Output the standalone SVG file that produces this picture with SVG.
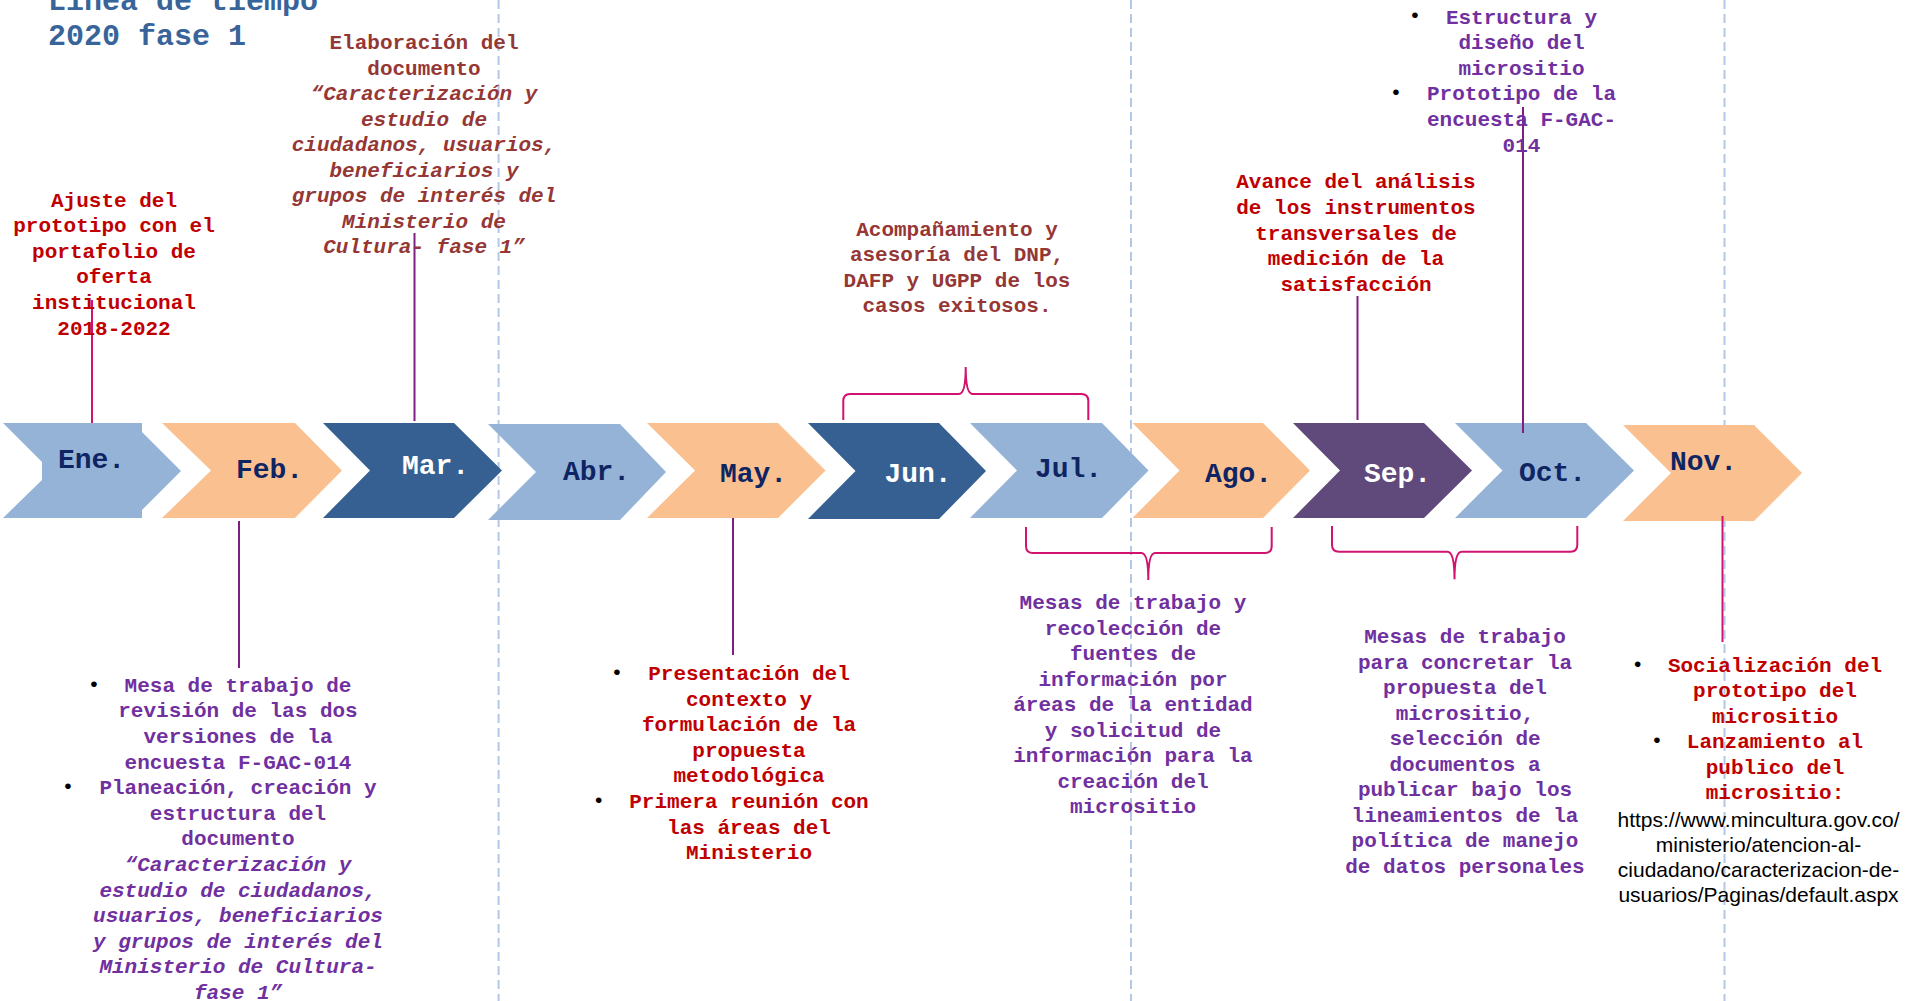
<svg xmlns="http://www.w3.org/2000/svg" width="1907" height="1001" viewBox="0 0 1907 1001">
<style>
.bg{fill:#ffffff}
.guide{stroke:#b4c7e7;stroke-width:2;stroke-dasharray:9 5;fill:none}
.lb{fill:#95b3d7}.pc{fill:#fac090}.db{fill:#376092}.pu{fill:#604a7b}
.mon{font-family:"Liberation Mono","Courier New",monospace;font-weight:bold;font-size:28px;text-anchor:middle}
.nv{fill:#0f2462}.wh{fill:#ffffff}
.t{font-family:"Liberation Mono","Courier New",monospace;font-weight:bold;font-size:21px;text-anchor:middle}
.it{font-style:italic}
.red{fill:#c00000}.brn{fill:#953735}.vio{fill:#7030a0}
.url{font-family:"Liberation Sans",Arial,sans-serif;font-size:21px;fill:#000000;text-anchor:middle}
.bul{font-family:"Liberation Sans",Arial,sans-serif;font-size:21px;fill:#000000;text-anchor:middle}
.pk{stroke:#d1136f;stroke-width:2;fill:none}
.pl{stroke:#7e1e80;stroke-width:2;fill:none}
.title{font-family:"Liberation Mono","Courier New",monospace;font-weight:bold;font-size:30px;fill:#38649a}
</style>
<rect class="bg" x="0" y="0" width="1907" height="1001"/>
<g id="guides">
<line class="guide" x1="498.6" y1="0" x2="498.6" y2="1001"/>
<line class="guide" x1="1131" y1="0" x2="1131" y2="1001"/>
<line class="guide" x1="1724.5" y1="0" x2="1724.5" y2="1001"/>
</g>
<g id="title">
<text class="title" x="48" y="10">Línea de tiempo</text>
<text class="title" x="48" y="45">2020 fase 1</text>
</g>
<g id="month-ene"><polygon class="lb" points="3,423 142,423 142,432 181,471 142,510 142,518 3,518 42,480 42,462"/><text class="mon nv" x="91.5" y="468">Ene.</text></g>
<g id="month-feb"><polygon class="pc" points="162,423 295,423 342,470.5 295,518 162,518 211,470.5"/><text class="mon nv" x="269.5" y="478">Feb.</text></g>
<g id="month-mar"><polygon class="db" points="323,423 454,423 502,470.5 454,518 323,518 370,470.5"/><text class="mon wh" x="435.5" y="474">Mar.</text></g>
<g id="month-abr"><polygon class="lb" points="488,424 620,424 666,472 620,520 488,520 536,472"/><text class="mon nv" x="596.5" y="480">Abr.</text></g>
<g id="month-may"><polygon class="pc" points="647,423 778,423 825.5,470.5 778,518 647,518 695,470.5"/><text class="mon nv" x="753.5" y="481.5">May.</text></g>
<g id="month-jun"><polygon class="db" points="808,423 939,423 986,471 939,519 808,519 855.5,471"/><text class="mon wh" x="918" y="481.5">Jun.</text></g>
<g id="month-jul"><polygon class="lb" points="970,423 1102,423 1148.5,470.5 1102,518 970,518 1017,470.5"/><text class="mon nv" x="1068.5" y="477">Jul.</text></g>
<g id="month-ago"><polygon class="pc" points="1132.5,423 1263,423 1310,470.5 1263,518 1132.5,518 1179.5,470.5"/><text class="mon nv" x="1238.5" y="481.5">Ago.</text></g>
<g id="month-sep"><polygon class="pu" points="1293,423 1424,423 1472,470.5 1424,518 1293,518 1340,470.5"/><text class="mon wh" x="1397.5" y="481.5">Sep.</text></g>
<g id="month-oct"><polygon class="lb" points="1455,423 1586,423 1634,470.5 1586,518 1455,518 1502.5,470.5"/><text class="mon nv" x="1552.5" y="480.5">Oct.</text></g>
<g id="month-nov"><polygon class="pc" points="1623,425 1754,425 1802,473 1754,521 1623,521 1671,473"/><text class="mon nv" x="1703.5" y="470">Nov.</text></g>
<g id="connectors">
<line class="pk" x1="92" y1="300" x2="92" y2="423"/>
<line class="pl" x1="414.5" y1="233" x2="414.5" y2="421"/>
<line class="pl" x1="1357.5" y1="296" x2="1357.5" y2="420"/>
<line class="pl" x1="1523" y1="107" x2="1523" y2="433"/>
<line class="pl" x1="239" y1="521" x2="239" y2="668"/>
<line class="pl" x1="733" y1="518" x2="733" y2="655"/>
<line class="pk" x1="1722.5" y1="516" x2="1722.5" y2="642"/>
<path class="pk" d="M843.3,420 L843.3,401 Q843.3,394 850,394 L959,394 Q965.7,394 965.7,367 Q965.7,394 972.5,394 L1081.5,394 Q1088.3,394 1088.3,401 L1088.3,420"/>
<path class="pk" d="M1026,527 L1026,546 Q1026,553 1033,553 L1141.5,553 Q1148.3,553 1148.3,580 Q1148.3,553 1155,553 L1264.5,553 Q1271.7,553 1271.7,546 L1271.7,527"/>
<path class="pk" d="M1332,526 L1332,545 Q1332,551.7 1339,551.7 L1447.5,551.7 Q1454.5,551.7 1454.5,579.3 Q1454.5,551.7 1461.5,551.7 L1570.5,551.7 Q1577.3,551.7 1577.3,545 L1577.3,526"/>
</g>
<g id="note-ene">
<text class="t red" x="114" y="206.5">Ajuste del</text>
<text class="t red" x="114" y="232.1">prototipo con el</text>
<text class="t red" x="114" y="257.7">portafolio de</text>
<text class="t red" x="114" y="283.3">oferta</text>
<text class="t red" x="114" y="308.9">institucional</text>
<text class="t red" x="114" y="334.5">2018-2022</text>
</g>
<g id="note-mar">
<text class="t brn" x="424" y="49.3">Elaboración del</text>
<text class="t brn" x="424" y="74.8">documento</text>
<text class="t brn it" x="424" y="100.3">“Caracterización y</text>
<text class="t brn it" x="424" y="125.8">estudio de</text>
<text class="t brn it" x="424" y="151.3">ciudadanos, usuarios,</text>
<text class="t brn it" x="424" y="176.8">beneficiarios y</text>
<text class="t brn it" x="424" y="202.3">grupos de interés del</text>
<text class="t brn it" x="424" y="227.8">Ministerio de</text>
<text class="t brn it" x="424" y="253.3">Cultura- fase 1”</text>
</g>
<g id="note-jun-jul">
<text class="t brn" x="957" y="236">Acompañamiento y</text>
<text class="t brn" x="957" y="261.3">asesoría del DNP,</text>
<text class="t brn" x="957" y="286.6">DAFP y UGPP de los</text>
<text class="t brn" x="957" y="311.9">casos exitosos.</text>
</g>
<g id="note-sep">
<text class="t red" x="1356" y="188.3">Avance del análisis</text>
<text class="t red" x="1356" y="213.9">de los instrumentos</text>
<text class="t red" x="1356" y="239.5">transversales de</text>
<text class="t red" x="1356" y="265.1">medición de la</text>
<text class="t red" x="1356" y="290.7">satisfacción</text>
</g>
<g id="note-oct">
<text class="bul" x="1415" y="22">•</text>
<text class="t vio" x="1521.5" y="23.5">Estructura y</text>
<text class="t vio" x="1521.5" y="49.1">diseño  del</text>
<text class="t vio" x="1521.5" y="74.7">micrositio</text>
<text class="bul" x="1396" y="99">•</text>
<text class="t vio" x="1521.5" y="100.3">Prototipo de la</text>
<text class="t vio" x="1521.5" y="125.9">encuesta F-GAC-</text>
<text class="t vio" x="1521.5" y="151.5">014</text>
</g>
<g id="note-feb">
<text class="bul" x="94" y="691">•</text>
<text class="t vio" x="238" y="691.7">Mesa de trabajo de</text>
<text class="t vio" x="238" y="717.3">revisión de las dos</text>
<text class="t vio" x="238" y="742.9">versiones de la</text>
<text class="t vio" x="238" y="768.5">encuesta F-GAC-014</text>
<text class="bul" x="68" y="792.7">•</text>
<text class="t vio" x="238" y="794.1">Planeación, creación y</text>
<text class="t vio" x="238" y="819.7">estructura del</text>
<text class="t vio" x="238" y="845.3">documento</text>
<text class="t vio it" x="238" y="870.9">“Caracterización y</text>
<text class="t vio it" x="238" y="896.5">estudio de ciudadanos,</text>
<text class="t vio it" x="238" y="922.1">usuarios, beneficiarios</text>
<text class="t vio it" x="238" y="947.7">y grupos de interés del</text>
<text class="t vio it" x="238" y="973.3">Ministerio de Cultura-</text>
<text class="t vio it" x="238" y="998.9">fase 1”</text>
</g>
<g id="note-may">
<text class="bul" x="617" y="679">•</text>
<text class="t red" x="749" y="680">Presentación del</text>
<text class="t red" x="749" y="705.6">contexto y</text>
<text class="t red" x="749" y="731.2">formulación de la</text>
<text class="t red" x="749" y="756.8">propuesta</text>
<text class="t red" x="749" y="782.4">metodológica</text>
<text class="bul" x="598.6" y="806.7">•</text>
<text class="t red" x="749" y="808">Primera reunión con</text>
<text class="t red" x="749" y="833.6">las áreas del</text>
<text class="t red" x="749" y="859.2">Ministerio</text>
</g>
<g id="note-jul-ago">
<text class="t vio" x="1133" y="609">Mesas de trabajo y</text>
<text class="t vio" x="1133" y="634.5">recolección de</text>
<text class="t vio" x="1133" y="660">fuentes de</text>
<text class="t vio" x="1133" y="685.5">información por</text>
<text class="t vio" x="1133" y="711">áreas de la entidad</text>
<text class="t vio" x="1133" y="736.5">y solicitud de</text>
<text class="t vio" x="1133" y="762">información para la</text>
<text class="t vio" x="1133" y="787.5">creación del</text>
<text class="t vio" x="1133" y="813">micrositio</text>
</g>
<g id="note-sep-oct">
<text class="t vio" x="1465" y="643.3">Mesas de trabajo</text>
<text class="t vio" x="1465" y="668.8">para concretar la</text>
<text class="t vio" x="1465" y="694.3">propuesta del</text>
<text class="t vio" x="1465" y="719.8">micrositio,</text>
<text class="t vio" x="1465" y="745.3">selección de</text>
<text class="t vio" x="1465" y="770.8">documentos a</text>
<text class="t vio" x="1465" y="796.3">publicar bajo los</text>
<text class="t vio" x="1465" y="821.8">lineamientos de la</text>
<text class="t vio" x="1465" y="847.3">política de manejo</text>
<text class="t vio" x="1465" y="872.8">de datos personales</text>
</g>
<g id="note-nov">
<text class="bul" x="1637.7" y="670.8">•</text>
<text class="t red" x="1775" y="671.7">Socialización del</text>
<text class="t red" x="1775" y="697.2">prototipo del</text>
<text class="t red" x="1775" y="722.7">micrositio</text>
<text class="bul" x="1657" y="746.8">•</text>
<text class="t red" x="1775" y="748.2">Lanzamiento al</text>
<text class="t red" x="1775" y="773.7">publico del</text>
<text class="t red" x="1775" y="799.2">micrositio:</text>
<text class="url" x="1758.5" y="826.7">https://www.mincultura.gov.co/</text>
<text class="url" x="1758.5" y="852">ministerio/atencion-al-</text>
<text class="url" x="1758.5" y="877.3">ciudadano/caracterizacion-de-</text>
<text class="url" x="1758.5" y="901.7">usuarios/Paginas/default.aspx</text>
</g>
</svg>
